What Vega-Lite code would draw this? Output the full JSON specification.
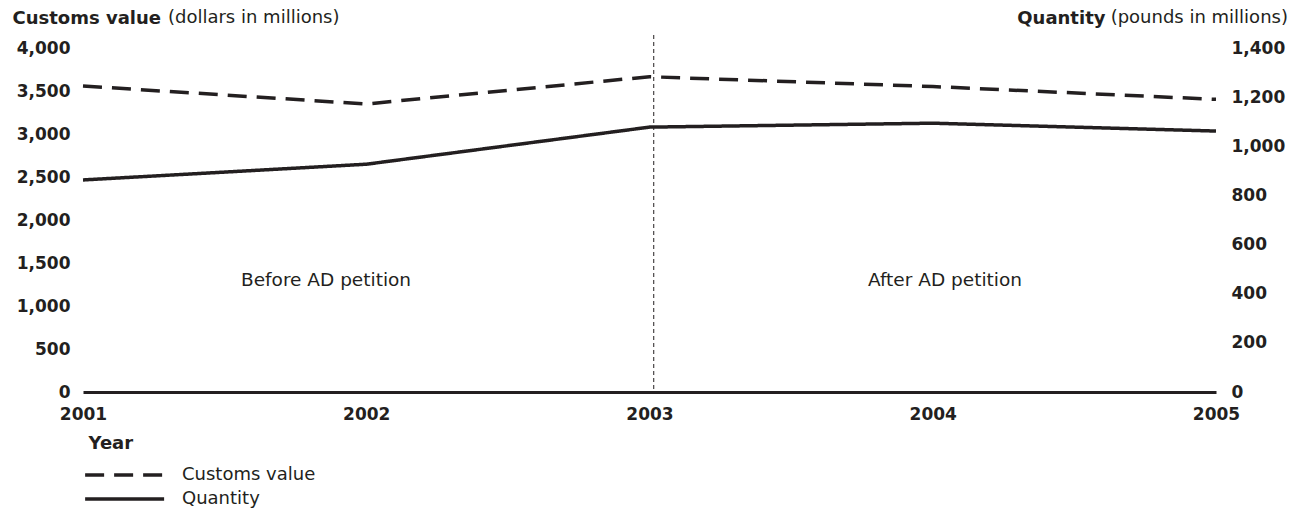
{
  "$schema": "https://vega.github.io/schema/vega-lite/v6.json",
  "width": 1133,
  "height": 344,
  "autosize": {"type": "none"},
  "padding": {"left": 83, "top": 48, "right": 88, "bottom": 118},
  "background": "white",
  "config": {
    "view": {"stroke": null},
    "font": "DejaVu Sans",
    "axis": {"grid": false, "ticks": false, "tickSize": 0, "labelColor": "#231f20", "titleColor": "#231f20"}
  },
  "datasets": {
    "series": [
      {"year": 2001, "series": "Customs value", "value": 3558},
      {"year": 2002, "series": "Customs value", "value": 3349},
      {"year": 2003, "series": "Customs value", "value": 3666},
      {"year": 2004, "series": "Customs value", "value": 3552},
      {"year": 2005, "series": "Customs value", "value": 3403},
      {"year": 2001, "series": "Quantity", "value": 863},
      {"year": 2002, "series": "Quantity", "value": 927},
      {"year": 2003, "series": "Quantity", "value": 1078},
      {"year": 2004, "series": "Quantity", "value": 1094},
      {"year": 2005, "series": "Quantity", "value": 1062}
    ],
    "notes": [
      {"label": "Before AD petition", "year": 2001.858, "value": 1302},
      {"label": "After AD petition", "year": 2004.043, "value": 1302}
    ]
  },
  "layer": [
    {
      "layer": [
        {
          "data": {"name": "series"},
          "transform": [{"filter": "datum.series === 'Customs value'"}],
          "mark": {"type": "line", "color": "#231f20", "strokeWidth": 3.5, "strokeCap": "butt"},
          "encoding": {
            "x": {
              "field": "year", "type": "quantitative",
              "scale": {"domain": [2001, 2005], "nice": false, "zero": false},
              "axis": {
                "values": [2001, 2002, 2003, 2004, 2005], "format": "d",
                "domain": true, "domainColor": "#231f20", "domainWidth": 3,
                "labelFont": "DejaVu Sans", "labelFontSize": 17, "labelFontWeight": "bold",
                "labelPadding": 14, "labelFlush": false, "labelOverlap": false,
                "title": "Year", "titleFontSize": 18, "titleFontWeight": "bold",
                "titleAnchor": "start", "titleAlign": "left", "titleBaseline": "middle",
                "titleX": 5, "titleY": 51
              }
            },
            "y": {
              "field": "value", "type": "quantitative",
              "scale": {"domain": [0, 4000], "nice": false},
              "axis": {
                "orient": "left", "domain": false,
                "values": [0, 500, 1000, 1500, 2000, 2500, 3000, 3500, 4000], "format": ",d",
                "labelFontSize": 17, "labelFontWeight": "bold", "labelPadding": 13,
                "title": "Customs value", "titleAngle": 0, "titleAlign": "left",
                "titleBaseline": "alphabetic", "titleFontSize": 18, "titleFontWeight": "bold",
                "titleX": -71, "titleY": -25
              }
            },
            "strokeDash": {
              "field": "series", "type": "nominal",
              "scale": {"domain": ["Customs value", "Quantity"], "range": [[19, 10], [1, 0]]},
              "legend": {
                "orient": "none", "legendX": 0, "legendY": 415, "direction": "vertical",
                "title": null, "symbolType": "M-1,0H7", "symbolSize": 390,
                "symbolStrokeWidth": 3.5, "symbolStrokeColor": "#231f20", "symbolFillColor": "transparent",
                "labelFontSize": 18, "labelOffset": 75, "labelColor": "#231f20",
                "rowPadding": 3
              }
            }
          }
        },
        {
          "data": {"values": [{}]},
          "mark": {"type": "rule", "color": "#231f20", "strokeWidth": 1, "strokeDash": [4, 3]},
          "encoding": {
            "x": {"datum": 2003.015, "type": "quantitative"},
            "y": {"datum": 4151, "type": "quantitative"},
            "y2": {"datum": 0}
          }
        },
        {
          "data": {"name": "notes"},
          "mark": {"type": "text", "fontSize": 18.5, "color": "#231f20", "align": "center", "baseline": "middle"},
          "encoding": {
            "x": {"field": "year", "type": "quantitative"},
            "y": {"field": "value", "type": "quantitative"},
            "text": {"field": "label"}
          }
        },
        {
          "data": {"values": [{}]},
          "mark": {"type": "text", "text": "(dollars in millions)", "fontSize": 18, "color": "#231f20", "align": "left", "baseline": "alphabetic"},
          "encoding": {
            "x": {"datum": 2001.3, "type": "quantitative"},
            "y": {"datum": 4290, "type": "quantitative"}
          }
        },
        {
          "data": {"values": [{}]},
          "mark": {"type": "text", "text": "(pounds in millions)", "fontSize": 18, "color": "#231f20", "align": "right", "baseline": "alphabetic"},
          "encoding": {
            "x": {"datum": 2005.254, "type": "quantitative"},
            "y": {"datum": 4290, "type": "quantitative"}
          }
        }
      ]
    },
    {
      "data": {"name": "series"},
      "transform": [{"filter": "datum.series === 'Quantity'"}],
      "mark": {"type": "line", "color": "#231f20", "strokeWidth": 3.5, "strokeCap": "butt"},
      "encoding": {
        "x": {"field": "year", "type": "quantitative"},
        "y": {
          "field": "value", "type": "quantitative",
          "scale": {"domain": [0, 1400], "nice": false},
          "axis": {
            "orient": "right", "domain": false,
            "values": [0, 200, 400, 600, 800, 1000, 1200, 1400], "format": ",d",
            "labelFontSize": 17, "labelFontWeight": "bold", "labelPadding": 15, "labelAlign": "left",
            "title": "Quantity", "titleAngle": 0, "titleAlign": "right",
            "titleBaseline": "alphabetic", "titleFontSize": 18, "titleFontWeight": "bold",
            "titleX": -111, "titleY": -25
          }
        },
        "strokeDash": {"field": "series", "type": "nominal"}
      }
    }
  ],
  "resolve": {"scale": {"y": "independent"}}
}
